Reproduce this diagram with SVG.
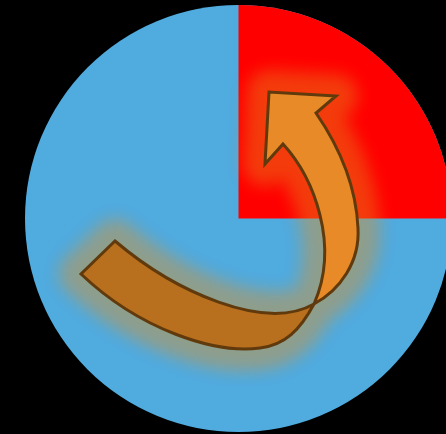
<svg xmlns="http://www.w3.org/2000/svg" width="446" height="434" viewBox="0 0 446 434">
  <defs>
    <filter id="glow" x="-50%" y="-50%" width="200%" height="200%">
      <feGaussianBlur stdDeviation="8"/>
    </filter>
    <clipPath id="disc">
      <circle cx="238.5" cy="218.5" r="213.5"/>
    </clipPath>
  </defs>
  <style>
    .lower { fill: #b9701e; }
    .upper { fill: #e88a27; }
    .halo { fill: #e48c1c; stroke: #e48c1c; stroke-width: 44; stroke-linejoin: round; }
    .outline { fill: none; stroke: #603a0c; stroke-width: 3; stroke-linejoin: miter; }
  </style>
  <rect id="background" x="0" y="0" width="446" height="434" fill="#000000"/>
  <g id="disc-node">
    <circle cx="238.5" cy="218.5" r="213.5" fill="#50abdf"/>
  </g>
  <g id="quadrant">
    <path d="M238.5,218.5 L238.5,0 L452,0 L452,218.5 Z" fill="#ff0000" clip-path="url(#disc)"/>
  </g>
  <g id="glow-layer" clip-path="url(#disc)">
    <g filter="url(#glow)" opacity="0.42">
      <path class="halo" d="M115,241 C175,292 265,332 314,304 C340,290 360,262 358,228 C356,185 338,145 316,113 L336,96 L269,92 L265,164 L283,144 C314,178 340,245 314,304 C300,330 285,345 260,348 C215,354 140,330 81,274 Z"/>
    </g>
  </g>
  <g id="arrow">
    <path class="lower" d="M115,241 C175,292 265,332 314,304 C300,330 285,345 260,348 C215,354 140,330 81,274 Z"/>
    <path class="upper" d="M314,304 C340,290 360,262 358,228 C356,185 338,145 316,113 L336,96 L269,92 L265,164 L283,144 C314,178 340,245 314,304 Z"/>
    <path class="outline" d="M115,241 C175,292 265,332 314,304 C340,290 360,262 358,228 C356,185 338,145 316,113 L336,96 L269,92 L265,164 L283,144 C314,178 340,245 314,304 C300,330 285,345 260,348 C215,354 140,330 81,274 Z"/>
  </g>
</svg>
